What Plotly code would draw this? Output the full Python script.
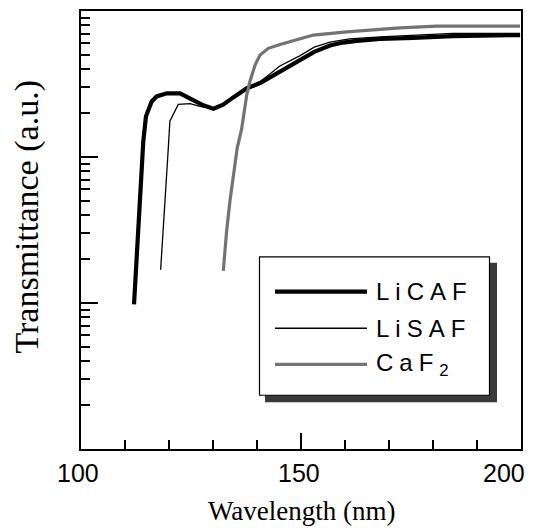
import plotly.graph_objects as go

# ---- data ----
licaf_wl = [112.05, 113.8, 114.16, 114.77, 116.07, 117.2, 119.5, 122.5, 125.5, 127.8,
            130.1, 132.3, 134.6, 137.7, 140.7, 145.2, 149.8, 153.0, 156.6, 159.5,
            162.7, 168.0, 175.5, 184.5, 199.8]
licaf_t = [0.0098, 0.0687, 0.1285, 0.190, 0.240, 0.260, 0.273, 0.273, 0.247, 0.226,
           0.214, 0.228, 0.256, 0.296, 0.321, 0.385, 0.455, 0.525, 0.580, 0.608,
           0.625, 0.643, 0.655, 0.673, 0.684]

lisaf_wl = [118.1, 119.5, 119.8, 120.2, 122.1, 124.8, 127.0, 130.1, 132.3, 134.6,
            137.7, 140.7, 145.2, 149.8, 153.0, 156.6, 161.0, 168.0, 175.5, 184.5, 199.8]
lisaf_t = [0.0169, 0.0687, 0.110, 0.176, 0.229, 0.232, 0.222, 0.214, 0.228, 0.256,
           0.296, 0.328, 0.420, 0.495, 0.565, 0.612, 0.645, 0.665, 0.684, 0.702, 0.702]

caf2_wl = [132.34, 133.11, 133.86, 135.0, 135.5, 136.5, 137.7, 138.4, 139.2, 139.6,
           140.7, 142.57, 145.23, 149.77, 152.8, 160.39, 172.5, 180.84, 199.77]
caf2_t = [0.0166, 0.0314, 0.0502, 0.094, 0.115, 0.155, 0.27, 0.33, 0.39, 0.43,
          0.50, 0.555, 0.590, 0.643, 0.684, 0.720, 0.766, 0.787, 0.787]

x_tick_vals = [100, 150, 200]
x_tick_text = ["100", "150", "200"]
y_major = [0.001, 0.01, 0.1, 1]
y_minor = [m * d for d in (0.001, 0.01, 0.1) for m in range(2, 10)]

legend_names = ["LiCAF", "LiSAF", "CaF<sub>2</sub>"]

# ---- figure ----
W, H = 536, 528
L, R, T, B = 81, 15, 9, 79
pw, ph = W - L - R, H - T - B

def px(x):
    return (x - L) / pw

def py(y):
    return (H - B - y) / ph

fig = go.Figure()
fig.add_trace(go.Scatter(x=licaf_wl, y=licaf_t, mode="lines",
                         line=dict(color="#000000", width=4.2), showlegend=False))
fig.add_trace(go.Scatter(x=lisaf_wl, y=lisaf_t, mode="lines",
                         line=dict(color="#000000", width=1.3), showlegend=False))
fig.add_trace(go.Scatter(x=caf2_wl, y=caf2_t, mode="lines",
                         line=dict(color="#737373", width=3.2), showlegend=False))

axis_common = dict(showline=True, linecolor="black", linewidth=1.5, mirror=True,
                   showgrid=False, zeroline=False, ticks="inside", tickcolor="black",
                   tickwidth=1.5)

fig.update_xaxes(range=[100, 200], tickmode="array", tickvals=x_tick_vals, ticklen=16,
                 showticklabels=False,
                 minor=dict(ticks="inside", dtick=10, tick0=100, ticklen=9,
                            tickcolor="black", tickwidth=1.5),
                 **axis_common)
fig.update_yaxes(type="log", range=[-3, 0], tickmode="array", tickvals=y_major,
                 ticklen=17, showticklabels=False,
                 minor=dict(ticks="inside", tickvals=y_minor, ticklen=9,
                            tickcolor="black", tickwidth=1.5),
                 **axis_common)

shapes = []
# legend shadow
shapes.append(dict(type="rect", xref="paper", yref="paper",
                   x0=px(265), x1=px(497), y0=py(402), y1=py(262),
                   fillcolor="#3a3a3a", line=dict(width=0), layer="above"))
# legend box
shapes.append(dict(type="rect", xref="paper", yref="paper",
                   x0=px(259.5), x1=px(489.5), y0=py(395), y1=py(256),
                   fillcolor="white", line=dict(color="black", width=1.2), layer="above"))
legend_y = [291, 327.7, 364]
legend_styles = [dict(color="#000000", width=4.2), dict(color="#000000", width=1.3),
                 dict(color="#737373", width=3.2)]
for yy, st in zip(legend_y, legend_styles):
    shapes.append(dict(type="line", xref="paper", yref="paper",
                       x0=px(275), x1=px(367), y0=py(yy), y1=py(yy),
                       line=st, layer="above"))

annotations = []
for yy, name in zip(legend_y, legend_names):
    annotations.append(dict(
        xref="paper", yref="paper", x=px(374), y=py(yy), xanchor="left", yanchor="middle",
        text='<span style="letter-spacing:6px">' + name + '</span>', showarrow=False,
        font=dict(family="Liberation Sans, Arial", size=24, color="black")))

# x tick labels (placed at the axis values)
tick_shift = [-3.5, -2, 6]
tick_anchor = ["center", "center", "right"]
for v, t, s, a in zip(x_tick_vals, x_tick_text, tick_shift, tick_anchor):
    annotations.append(dict(xref="x", yref="paper", x=v, y=py(473), xanchor=a,
                            yanchor="middle", xshift=s, text=t, showarrow=False,
                            font=dict(family="Liberation Sans, Arial", size=25,
                                      color="black")))

annotations.append(dict(xref="paper", yref="paper", x=px(302), y=py(511),
                        xanchor="center", yanchor="middle", text="Wavelength (nm)",
                        showarrow=False,
                        font=dict(family="Liberation Serif, Times New Roman", size=27,
                                  color="black")))
annotations.append(dict(xref="paper", yref="paper", x=px(27), y=py(215.5),
                        xanchor="center", yanchor="middle", text="Transmittance (a.u.)",
                        textangle=-90, showarrow=False,
                        font=dict(family="Liberation Serif, Times New Roman", size=34,
                                  color="black")))

fig.update_layout(width=W, height=H, margin=dict(l=L, r=R, t=T, b=B),
                  paper_bgcolor="white", plot_bgcolor="white",
                  shapes=shapes, annotations=annotations, showlegend=False)

fig.write_html("out.html")
